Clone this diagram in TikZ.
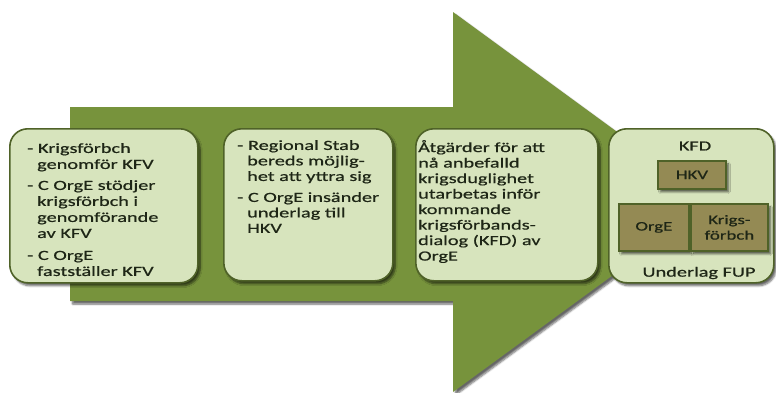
\documentclass[tikz,border=0pt]{standalone}
\usepackage{fontspec}
\setmainfont{Carlito}[FakeStretch=1.45, FakeBold=0.6]
\usetikzlibrary{shadows.blur}
\definecolor{arrowgreen}{HTML}{77933C}
\definecolor{boxfill}{HTML}{D7E4BD}
\definecolor{boxline}{HTML}{4F6228}
\definecolor{innerfill}{HTML}{948A54}
\definecolor{inktext}{HTML}{1E2616}

\tikzset{
  softshadow/.style={blur shadow={shadow xshift=2.5pt, shadow yshift=-3pt,
      shadow blur steps=6, shadow opacity=60}},
  stage/.style={draw=boxline, line width=1.6pt, fill=boxfill,
      rounded corners=18pt, softshadow, anchor=north west, inner sep=0pt},
  unit/.style={draw=boxline, line width=1.8pt, fill=innerfill,
      anchor=north west, inner sep=0pt, softshadow},
  txt/.style={inner sep=0pt, align=left, anchor=north west, text=inktext,
      font=\fontsize{14}{15.5}\selectfont},
  widetxt/.style={txt, font=\fontsize{14}{16}\selectfont},
  ctxt/.style={inner sep=0pt, align=center, text=inktext,
      font=\fontsize{14}{15.5}\selectfont},
  utxt/.style={inner sep=0pt, align=center, text=inktext,
      font=\fontsize{13}{15.5}\selectfont},
}
\newcommand{\ind}{\hspace*{10pt}}

\begin{document}
\begin{tikzpicture}[x=1pt, y=-1pt]
  \useasboundingbox (0,0) rectangle (776,392);

  % big process arrow
  \fill[arrowgreen, softshadow]
    (70,107) -- (453,107) -- (453,12) -- (713,202) -- (453,392)
    -- (453,301) -- (70,301) -- cycle;

  % stage boxes
  \node[stage, minimum width=188pt, minimum height=154pt] (s1) at (9,128) {};
  \node[stage, minimum width=169pt, minimum height=152pt] (s2) at (223,128) {};
  \node[stage, minimum width=182pt, minimum height=152pt] (s3) at (415,128) {};
  \node[stage, minimum width=165pt, minimum height=154pt] (s4) at (608,128) {};

  % stage texts
  \node[widetxt] (t1) at (27,143)
    {- Krigsförbch\\\ind genomför KFV\\[5pt]
     - C OrgE stödjer\\\ind krigsförbch i\\\ind genomförande\\\ind av KFV\\[6pt]
     - C OrgE\\\ind fastställer KFV};
  \node[txt] (t2) at (237,140)
    {- Regional Stab\\\ind bereds möjlig-\\\ind het att yttra sig\\[5.5pt]
     - C OrgE insänder\\\ind underlag till\\\ind HKV};
  \node[txt] (t3) at (418,140)
    {Åtgärder för att\\nå anbefalld\\krigsduglighet\\utarbetas inför\\kommande\\krigsförbands-\\dialog (KFD) av\\OrgE};

  % dialogue box content
  \node[ctxt] (kfd) at (695,146) {KFD};
  \node[unit, minimum width=68pt, minimum height=28pt] (hkv) at (657,160) {};
  \node[utxt] (hkvt) at (hkv.center) {HKV};
  \node[unit, minimum width=70pt, minimum height=47pt] (orge) at (618,203) {};
  \node[utxt] (orget) at (orge.center) {OrgE};
  \node[unit, minimum width=77pt, minimum height=47pt] (kf) at (690,203) {};
  \node[utxt] (kft) at (kf.center) {Krigs-\\förbch};
  \node[ctxt] (fup) at (699,273) {Underlag FUP};
\end{tikzpicture}
\end{document}
